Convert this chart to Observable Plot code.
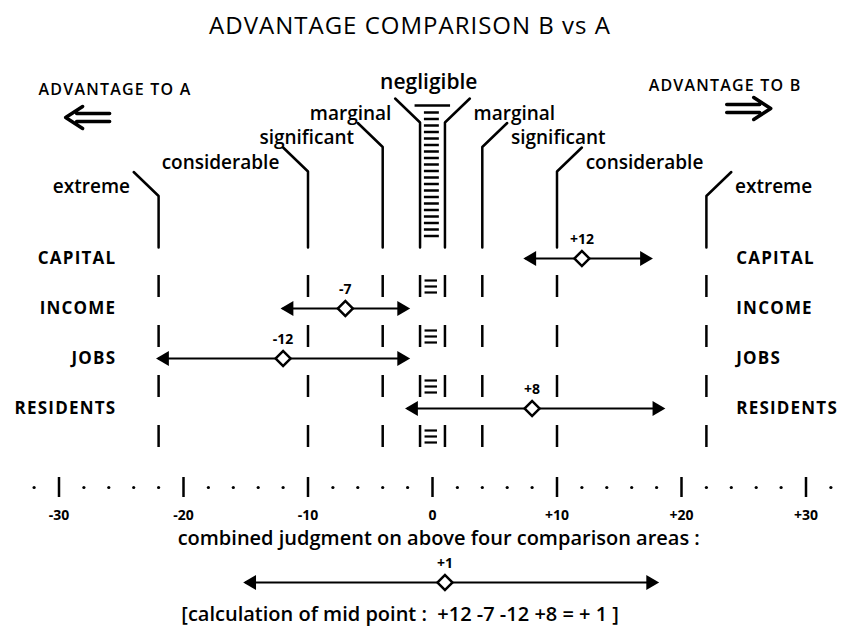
<!DOCTYPE html>
<html><head><meta charset="utf-8">
<script src="https://cdn.jsdelivr.net/npm/d3@7"></script>
<script src="https://cdn.jsdelivr.net/npm/@observablehq/plot@0.6"></script>
<style>
body{margin:0;background:#fff;font-family:"Open Sans",sans-serif;}
#title{height:50px;line-height:50px;text-align:center;font-size:24px;letter-spacing:1px;color:#000;padding-right:22px;box-sizing:border-box;width:842px}
</style></head><body>
<div id="title">ADVANTAGE COMPARISON B vs A</div>
<div id="chart"></div>
<script>
// ---- data ----
const areas = ["CAPITAL", "INCOME", "JOBS", "RESIDENTS"];
const mids = [12, -7, -12, 8];
const lows = [7.5, -12, -22, -2];
const highs = [17.5, -2, -2, 18.5];
const midLabels = ["+12", "-7", "-12", "+8"];
const combinedMid = 1, combinedLow = -15, combinedHigh = 18, combinedLabel = "+1";
const levels = ["negligible", "marginal", "significant", "considerable", "extreme"];
const boundaries = [1, 4, 10, 22]; // inner edge of marginal, significant, considerable, extreme
const axisTicks = [-30, -20, -10, 0, 10, 20, 30];
const tickLabels = ["-30", "-20", "-10", "0", "+10", "+20", "+30"];
const sideHeads = ["ADVANTAGE TO A", "ADVANTAGE TO B"];
const combinedText = "combined judgment on above four comparison areas :";
const calcText = "[calculation of mid point :  +12 -7 -12 +8 = + 1 ]";

// ---- derived tables ----
const rows = areas.map((a, i) => ({area: a, row: i + 1, mid: mids[i], low: lows[i], high: highs[i], label: midLabels[i]}));
const comb = [{row: 7.48, mid: combinedMid, low: combinedLow, high: combinedHigh, label: combinedLabel}];
const allRows = rows.concat(comb);

const sides = [-1, 1];
const lvl = [];
sides.forEach(s => boundaries.forEach((b, i) => {
  lvl.push({s, b, name: levels[i + 1], labelR: -1.9 + i * 0.49, key: s + "_" + b});
}));
const leaderPts = lvl.flatMap(d => [
  {key: d.key, x: d.s * (d.b + 2), y: d.labelR - 0.3},
  {key: d.key, x: d.s * d.b, y: d.labelR + 0.18},
  {key: d.key, x: d.s * d.b, y: 0.78}
]);
const dashes = lvl.flatMap(d => areas.map((a, k) => ({x: d.s * d.b, y1: k + 1.34, y2: k + 1.78})));
const hatch = d3.range(-1.92, 0.56, 0.13).map(y => ({y, x1: -0.65, x2: 0.55}));
hatch.push({y: -2.06, x1: -1.4, x2: 1.45});
const tripleBars = areas.flatMap((a, k) => [0.44, 0.56, 0.68].map(o => ({y: k + 1 + o, x1: -0.6, x2: 0.4})));
const axisDots = d3.range(-32, 33, 2).filter(v => v % 10 !== 0).map(v => ({v}));
const ticks = axisTicks.map((v, i) => ({v, label: tickLabels[i]}));

// hollow double-shaft arrow symbol (points left; rotate 180 for right)
const doubleArrow = {
  draw(ctx, size) {
    const k = Math.sqrt(size / Math.PI) / 10;
    ctx.moveTo(22 * k, -4 * k); ctx.lineTo(-11 * k, -4 * k);
    ctx.moveTo(22 * k, 4 * k); ctx.lineTo(-11 * k, 4 * k);
    ctx.moveTo(-5 * k, -11 * k); ctx.lineTo(-22 * k, 0); ctx.lineTo(-5 * k, 11 * k);
  }
};

const F = "Open Sans";
const chart = Plot.plot({
  width: 842, height: 584,
  marginTop: 0, marginRight: 0, marginBottom: 0, marginLeft: 0,
  x: {domain: [-432 / 12.45, 410 / 12.45], range: [0, 842], axis: null},
  y: {domain: [-3.16, 8.52], range: [0, 584], axis: null},
  marks: [
    // side headings and big arrows
    Plot.text(sideHeads, {x: (d, i) => i ? 23.5 : -25.5, y: (d, i) => i ? -2.46 : -2.38, text: d => d, fontSize: 16, fontFamily: F, fontWeight: 600}),
    Plot.dot(sideHeads, {x: (d, i) => i ? 25.4 : -27.7, y: (d, i) => i ? -2.0 : -1.82, symbol: doubleArrow, rotate: (d, i) => i ? 180 : 0, r: 10, fill: "none", stroke: "black", strokeWidth: 3.5, strokeLinecap: "round", strokeLinejoin: "round"}),
    // negligible label
    Plot.text([levels[0]], {x: -0.3, y: -2.52, text: d => d, fontSize: 21, fontFamily: F, fontWeight: 600}),
    // level labels
    Plot.text(lvl.filter(d => d.s < 0), {x: d => -(d.b + 2.3), y: "labelR", text: "name", textAnchor: "end", fontSize: 19, fontFamily: F, fontWeight: 600}),
    Plot.text(lvl.filter(d => d.s > 0), {x: d => d.b + 2.3, y: "labelR", text: "name", textAnchor: "start", fontSize: 19, fontFamily: F, fontWeight: 600}),
    // leader + continuous line
    Plot.line(leaderPts, {x: "x", y: "y", z: "key", stroke: "black", strokeWidth: 2.5, curve: "linear"}),
    // dashed continuation
    Plot.ruleX(dashes, {x: "x", y1: "y1", y2: "y2", stroke: "black", strokeWidth: 2.5}),
    // negligible hatching
    Plot.ruleY(hatch, {y: "y", x1: "x1", x2: "x2", stroke: "black", strokeWidth: 2.5}),
    Plot.ruleY(tripleBars, {y: "y", x1: "x1", x2: "x2", stroke: "black", strokeWidth: 2.2}),
    // row labels
    Plot.text(rows, {x: -25.4, y: "row", text: "area", textAnchor: "end", fontSize: 17, fontFamily: F, fontWeight: 700}),
    Plot.text(rows, {x: 24.4, y: "row", text: "area", textAnchor: "start", fontSize: 17, fontFamily: F, fontWeight: 700}),
    // ranges
    Plot.ruleY(allRows, {y: "row", x1: "low", x2: "high", stroke: "black", strokeWidth: 2}),
    Plot.dot(allRows, {x: "low", y: "row", symbol: "triangle", rotate: -90, r: 5.5, fill: "black", dx: 6}),
    Plot.dot(allRows, {x: "high", y: "row", symbol: "triangle", rotate: 90, r: 5.5, fill: "black", dx: -6}),
    Plot.dot(allRows, {x: "mid", y: "row", symbol: "square", rotate: 45, r: 6, fill: "white", stroke: "black", strokeWidth: 2.5}),
    Plot.text(allRows, {x: "mid", y: "row", text: "label", dy: -19, fontSize: 14, fontFamily: F, fontWeight: 700}),
    // axis
    Plot.dot(axisDots, {x: "v", y: 5.58, r: 1.6, fill: "black"}),
    Plot.ruleX(ticks, {x: "v", y1: 5.38, y2: 5.78, stroke: "black", strokeWidth: 2.5}),
    Plot.text(ticks, {x: "v", y: 6.14, text: "label", fontSize: 14, fontFamily: F, fontWeight: 700}),
    // combined
    Plot.text([combinedText], {x: 0.5, y: 6.6, text: d => d, fontSize: 20, fontFamily: F, fontWeight: 600}),
    Plot.text([calcText], {x: -2.6, y: 8.12, text: d => d, fontSize: 20, fontFamily: F, fontWeight: 600})
  ]
});
// widen hand-lettered capitals a little
chart.querySelectorAll("text").forEach(t => {
  if (areas.includes(t.textContent) || sideHeads.includes(t.textContent)) t.style.letterSpacing = "1.2px";
});
document.getElementById("chart").appendChild(chart);
</script>
</body></html>
